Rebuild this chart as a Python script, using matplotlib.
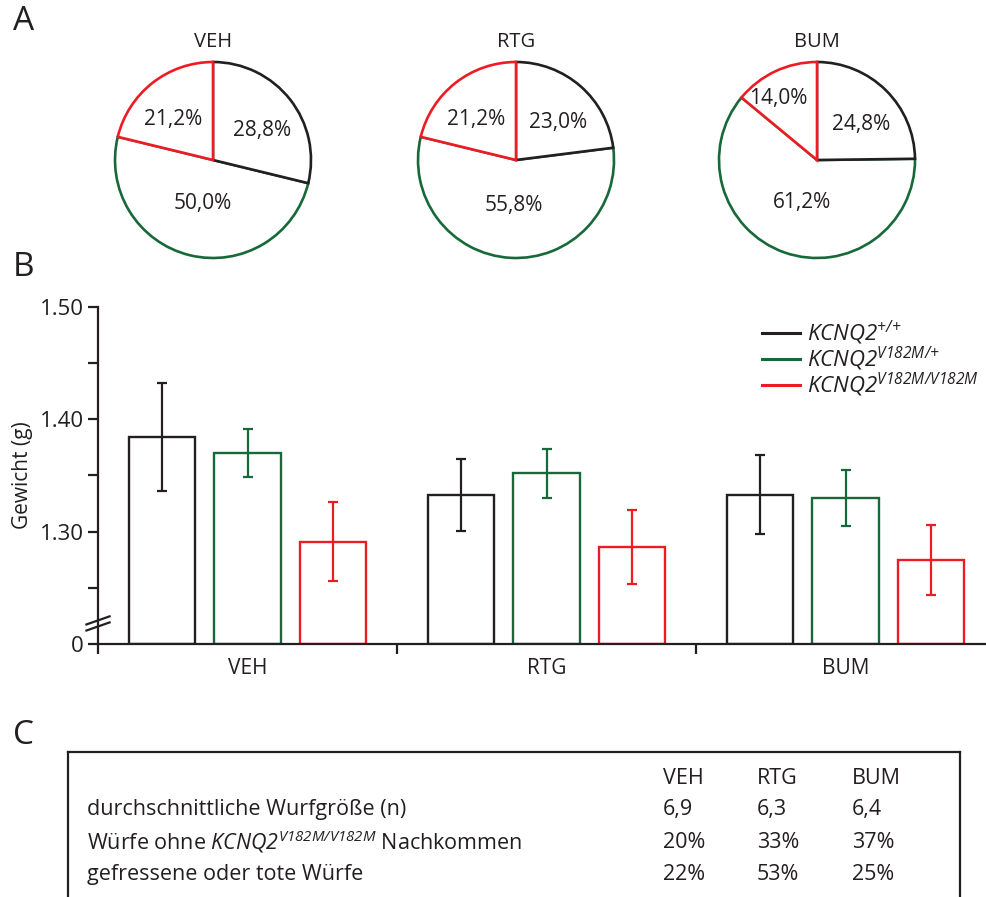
import numpy as np
import matplotlib
matplotlib.use("Agg")
import matplotlib.pyplot as plt

plt.rcParams['font.family'] = ['Open Sans', 'DejaVu Sans']
# math text is only used for the italic gene symbols
plt.rcParams['mathtext.fontset'] = 'custom'
plt.rcParams['mathtext.rm'] = 'Open Sans:italic'
plt.rcParams['mathtext.it'] = 'Open Sans:italic'

# Data
groups = ['VEH', 'RTG', 'BUM']
genotypes = [r'$KCNQ2^{{+}/{+}}$',
             r'$KCNQ2^{V182M/{+}}$',
             r'$KCNQ2^{V182M/V182M}$']
colors = ['#231f20', '#17693a', '#ed1c24']

# genotype distribution (%) per treatment: +/+, V182M/+, V182M/V182M
pie_shares = {
    'VEH': [28.8, 50.0, 21.2],
    'RTG': [23.0, 55.8, 21.2],
    'BUM': [24.8, 61.2, 14.0],
}
pie_labels = {
    'VEH': ['28,8%', '50,0%', '21,2%'],
    'RTG': ['23,0%', '55,8%', '21,2%'],
    'BUM': ['24,8%', '61,2%', '14,0%'],
}

# body weight (g), mean and SEM; rows = treatment, cols = genotype
weight_mean = np.array([[1.384, 1.370, 1.291],
                        [1.333, 1.352, 1.286],
                        [1.333, 1.330, 1.275]])
weight_sem = np.array([[0.048, 0.021, 0.035],
                       [0.032, 0.022, 0.033],
                       [0.035, 0.025, 0.031]])

table_cols = ['VEH', 'RTG', 'BUM']
table_rows = ['durchschnittliche Wurfgröße (n)',
              r'Würfe ohne $KCNQ2^{V182M/V182M}$ Nachkommen',
              'gefressene oder tote Würfe']
table_vals = [['6,9', '6,3', '6,4'],
              ['20%', '33%', '37%'],
              ['22%', '53%', '25%']]

W, H = 987, 897
fig = plt.figure(figsize=(W / 100, H / 100), dpi=100)
ink = '#231f20'


def fx(px):
    return px / W


def fy(py):
    return 1 - py / H


# --- A: pie charts ---
pie_cx = [213, 516, 817]
pie_cy = 160
pie_r = 98
# labels of the two upper wedges are nudged away from the vertical edge
angle_nudge = [-7, 0, 7]
for g, cx in zip(groups, pie_cx):
    ax = fig.add_axes([fx(cx - pie_r), fy(pie_cy + pie_r), 2 * pie_r / W, 2 * pie_r / H])
    wedges, _ = ax.pie(pie_shares[g], startangle=90, counterclock=False,
                       colors=['white'] * 3,
                       wedgeprops=dict(linewidth=1.9))
    for w, c, z in zip(wedges, colors, [2, 1, 3]):
        w.set_edgecolor(c)
        w.set_zorder(z)
        w.set_clip_on(False)
    start = 90.0
    for share, lab, nudge in zip(pie_shares[g], pie_labels[g], angle_nudge):
        mid = start - share * 3.6 / 2 + nudge
        start -= share * 3.6
        if share > 45:
            dist = 0.46
        elif share < 18:
            dist = 0.74
        else:
            dist = 0.58
        ax.text(dist * np.cos(np.deg2rad(mid)), dist * np.sin(np.deg2rad(mid)), lab,
                zorder=5, ha='center', va='center', fontsize=15, color=ink)
    ax.set_xlim(-1, 1)
    ax.set_ylim(-1, 1)
    ax.axis('off')
    fig.text(fx(cx), fy(42), g, ha='center', va='center', fontsize=14.5, color=ink)

# --- B: bar chart ---
axb = fig.add_axes([fx(98), fy(644), (W - 98) / W, (644 - 307) / H])
ymin = 1.20
x = np.arange(len(groups))
offsets = [-0.285, 0.0, 0.285]
for j in range(3):
    xs = x + offsets[j]
    axb.bar(xs, weight_mean[:, j] - ymin, bottom=ymin, width=0.222,
            facecolor='white', edgecolor=colors[j], linewidth=1.7, zorder=2)
    axb.errorbar(xs, weight_mean[:, j], yerr=weight_sem[:, j], fmt='none',
                 ecolor=colors[j], elinewidth=1.6, capsize=3.5, capthick=1.6, zorder=3)
    axb.plot([], [], color=colors[j], linewidth=2.2, label=genotypes[j])

axb.set_xlim(-0.5, -0.5 + (W - 98) / 299)
axb.set_ylim(ymin, 1.50)
axb.spines['top'].set_visible(False)
axb.spines['right'].set_visible(False)
for s in ['left', 'bottom']:
    axb.spines[s].set_linewidth(1.6)
    axb.spines[s].set_color(ink)

axb.set_yticks([1.20, 1.30, 1.40, 1.50])
axb.set_yticklabels(['0', '1.30', '1.40', '1.50'])
axb.set_yticks([1.25, 1.35, 1.45], minor=True)
axb.tick_params(axis='y', which='both', length=7, width=1.6, color=ink,
                labelsize=16, labelcolor=ink, pad=3)
axb.set_xticks([-0.5, 0.5, 1.5])
axb.set_xticklabels([])
axb.set_xticks(x, minor=True)
axb.set_xticklabels(groups, minor=True)
axb.tick_params(axis='x', which='major', length=7, width=1.6, color=ink)
axb.tick_params(axis='x', which='minor', length=0, labelsize=15,
                labelcolor=ink, pad=10)
axb.set_ylabel('Gewicht (g)', fontsize=15, color=ink)
axb.yaxis.set_label_coords(-0.073, 0.5)

# axis break marks on the y axis
for yb in [0.052, 0.07]:
    axb.plot([-0.013, 0.013], [yb - 0.012, yb + 0.012], transform=axb.transAxes,
             color=ink, linewidth=1.6, clip_on=False)

leg = axb.legend(loc='upper left', bbox_to_anchor=(0.737, 0.99), frameon=False,
                 fontsize=16, handlelength=1.7, handletextpad=0.32, labelspacing=-0.11,
                 borderaxespad=0)
for t in leg.get_texts():
    t.set_color(ink)

# --- C: table ---
axc = fig.add_axes([fx(68), 0, (960 - 68) / W, fy(752)])
axc.set_xlim(68, 960)
axc.set_ylim(H, 752)
axc.set_xticks([])
axc.set_yticks([])
axc.spines['bottom'].set_visible(False)
for s in ['top', 'left', 'right']:
    axc.spines[s].set_linewidth(1.6)
    axc.spines[s].set_color(ink)

col_x = [663, 757, 852]
row_y = [809, 842, 874]
for cx, c in zip(col_x, table_cols):
    axc.text(cx, 778, c, ha='left', va='center', fontsize=15.5, color=ink)
for ry, lab, vals in zip(row_y, table_rows, table_vals):
    axc.text(87, ry, lab, ha='left', va='center', fontsize=15.5, color=ink)
    for cx, v in zip(col_x, vals):
        axc.text(cx, ry, v, ha='left', va='center', fontsize=15.5, color=ink)

# panel letters
for lab, py in [('A', 21), ('B', 268), ('C', 736)]:
    fig.text(fx(24), fy(py), lab, ha='center', va='center', fontsize=24, color=ink)

fig.savefig('out.png', dpi=100)
